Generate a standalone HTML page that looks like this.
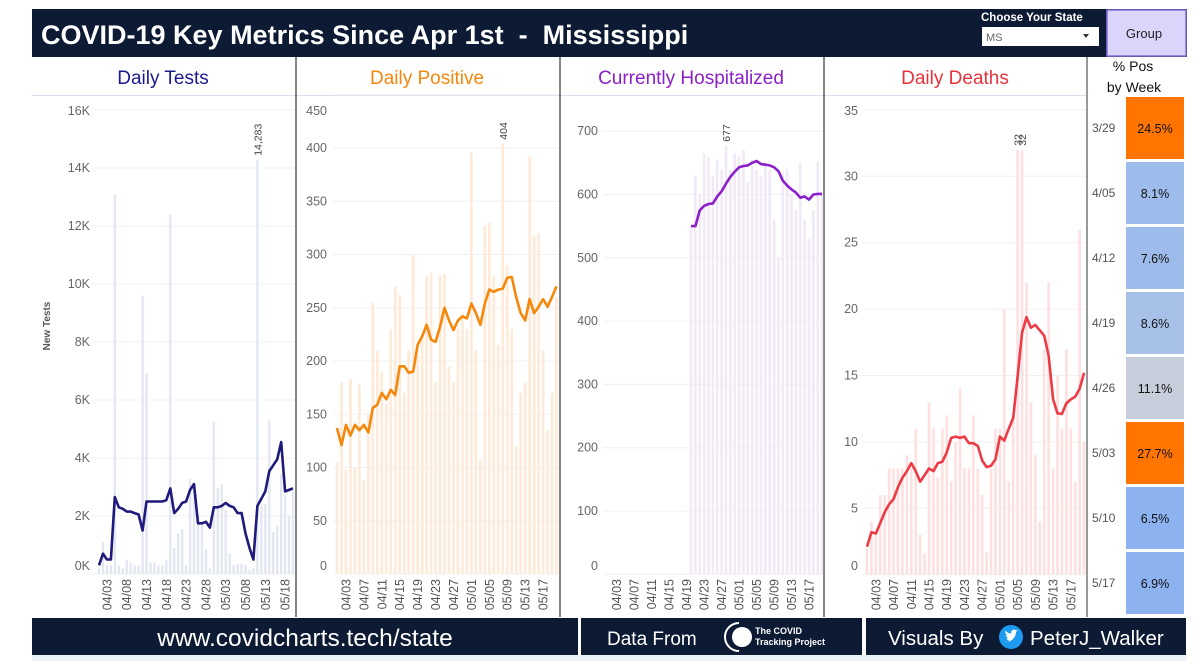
<!DOCTYPE html>
<html><head><meta charset="utf-8">
<style>
html,body{margin:0;padding:0;background:#fff;width:1200px;height:661px;overflow:hidden;font-family:"Liberation Sans",sans-serif}
svg text{font-family:"Liberation Sans",sans-serif}
</style></head>
<body>
<svg id="root" width="1200" height="661" viewBox="0 0 1200 661" xmlns="http://www.w3.org/2000/svg">
  <rect x="0" y="0" width="1200" height="661" fill="#fff"/>
  <rect x="32" y="655" width="1155" height="6" fill="#eef3fa"/>
  <!-- header -->
  <g>
    <rect x="32" y="9" width="1155" height="48" fill="#0c1a33"/>
    <text x="41" y="44" font-size="27" font-weight="bold" fill="#fff" style="white-space:pre">COVID-19 Key Metrics Since Apr 1st  -  Mississippi</text>
    <text x="981" y="21" font-size="11.5" font-weight="bold" fill="#fff">Choose Your State</text>
    <g>
      <rect x="982" y="27" width="117" height="19" fill="#fff"/>
      <text x="986" y="41" font-size="11" fill="#666">MS</text>
      <path d="M1083 34 l6 0 l-3 4 z" fill="#333"/>
    </g>
    <g>
      <rect x="1107" y="10" width="79" height="46" fill="#d9d5fb" stroke="#8a6fe0" stroke-width="1.5"/>
      <text x="1144" y="38" font-size="13" fill="#222" text-anchor="middle">Group</text>
    </g>
  </g>
  <!-- panel frame -->
  <line x1="32" y1="95.5" x2="1086" y2="95.5" stroke="#dde" stroke-width="1"/>
  <line x1="296" y1="57" x2="296" y2="617" stroke="#333" stroke-width="1.2"/>
  <line x1="560" y1="57" x2="560" y2="617" stroke="#333" stroke-width="1.2"/>
  <line x1="824" y1="57" x2="824" y2="617" stroke="#333" stroke-width="1.2"/>
  <line x1="1087" y1="57" x2="1087" y2="617" stroke="#555" stroke-width="1.2"/>
  <text x="163" y="84" font-size="19" fill="#1c1a8c" text-anchor="middle">Daily Tests</text>
  <text x="427" y="84" font-size="19" fill="#f5870b" text-anchor="middle">Daily Positive</text>
  <text x="691" y="84" font-size="19" fill="#8b1fc9" text-anchor="middle">Currently Hospitalized</text>
  <text x="955" y="84" font-size="19" fill="#e8323c" text-anchor="middle">Daily Deaths</text>
  <text transform="translate(50,326) rotate(-90)" font-size="10" font-weight="bold" fill="#555" text-anchor="middle">New Tests</text>
  <g id="charts"></g>
  <!-- week table -->
  <text x="1133" y="71" font-size="14" fill="#111" text-anchor="middle">% Pos</text>
  <text x="1134" y="92" font-size="14" fill="#111" text-anchor="middle">by Week</text>
  <g id="weektable"></g>
  <!-- footer -->
  <g>
    <rect x="32" y="618" width="546" height="37" fill="#0c1a33"/>
    <rect x="581" y="618" width="281" height="37" fill="#0c1a33"/>
    <rect x="866" y="618" width="320" height="37" fill="#0c1a33"/>
    <text x="305" y="646" font-size="24.5" fill="#fff" text-anchor="middle">www.covidcharts.tech/state</text>
    <text x="607" y="645" font-size="19" fill="#fff">Data From</text>
    <g>
      <path d="M739 623 A14 14 0 0 0 739 651" stroke="#fff" stroke-width="2" fill="none"/>
      <circle cx="742" cy="637" r="10" fill="#fff"/>
      <text x="755" y="634" font-size="9" font-weight="bold" fill="#fff">The COVID</text>
      <text x="755" y="645" font-size="9" font-weight="bold" fill="#fff">Tracking Project</text>
    </g>
    <text x="888" y="645" font-size="20.5" fill="#fff">Visuals By</text>
    <g>
      <circle cx="1011" cy="637" r="12" fill="#1d9bf0"/>
      <path d="M1004 641 q5 2 9 -2 q3 -3 3 -7 l2 -2 l-2 0.5 q-2 -2 -4 0 q-1.5 1.5 -0.5 3 q-4 0 -6 -3 q-1 3 2 5 l-2 0 q1 2 3 2.5 l-2 0.5 q1 2 3 2 q-2 1.5 -4.5 1z" fill="#fff"/>
      <text x="1030" y="645" font-size="20.5" fill="#fff">PeterJ_Walker</text>
    </g>
  </g>
</svg>
<script>
const NS='http://www.w3.org/2000/svg';
// ---- data (days 04/01 .. 05/20) ----
const testsBars=[0.2,1.1,0.3,0.3,13.1,0.3,0.2,0.5,0.4,0.3,0.3,9.6,6.9,0.4,0.4,0.3,0.3,0.5,12.4,0.9,1.4,1.55,0.3,3.3,3.1,2.0,1.75,0.85,0.2,5.25,2.95,3.1,2.2,0.7,0.3,0.35,0.35,0.3,0.15,0.2,14.283,2.35,2.4,5.3,1.45,1.65,3.45,2.75,2.0,2.85];
const testsLine=[0.3,0.7,0.5,0.5,2.65,2.3,2.25,2.15,2.15,2.1,2.05,1.5,2.5,2.5,2.5,2.5,2.5,2.55,2.95,2.1,2.25,2.45,2.5,2.9,3.1,1.75,1.75,1.8,1.6,2.3,2.3,2.35,2.45,2.35,2.3,2.1,2.1,1.4,0.9,0.5,2.35,2.6,2.85,3.55,3.75,3.95,4.55,2.85,2.9,2.95];
const posBars=[105,180,98,183,100,178,88,150,255,210,190,160,230,270,262,170,210,300,205,225,280,283,180,280,282,195,180,230,245,230,396,210,107,327,330,280,215,404,290,230,120,170,180,392,318,320,210,135,170,260];
const posLine=[137,121,140,130,140,135,140,133,156,159,170,164,173,168,195,195,189,190,215,223,234,220,218,232,250,238,229,238,242,240,254,245,234,254,267,265,267,268,278,279,260,245,238,258,245,251,258,251,260,270];
const hospBars=[null,null,null,null,null,null,null,null,null,null,null,null,null,null,null,null,null,null,null,550,630,600,665,660,630,655,640,677,640,665,660,670,620,655,640,630,650,640,560,500,635,640,600,576,650,560,530,575,652,600];
const hospLine=[null,null,null,null,null,null,null,null,null,null,null,null,null,null,null,null,null,null,null,550,550,575,582,585,586,597,605,617,628,636,643,645,646,650,653,648,647,646,643,637,622,614,608,603,595,597,592,600,601,601];
const deathBars=[2,4,3,6,6,8,8,8,8,9,8,11,3,1.6,13,11,7.3,11,12,7,10,14,8,8,12,8,6,1.7,8,11,11,20,7,12,32,32,22,13,9,4,17,22,8,15,11,17,11,7,26,10];
const deathLine=[2.1,3.2,3.1,3.9,4.7,5.3,5.7,6.6,7.3,7.8,8.4,7.8,7.0,7.5,8.0,7.8,8.4,8.5,9.2,10.3,10.4,10.3,10.4,9.9,9.9,9.7,8.6,8.1,8.2,8.7,10.4,10.1,11.0,11.8,14.9,18.2,19.4,18.6,18.8,18.4,18.0,16.5,13.2,12.15,12.1,12.9,13.2,13.4,14.0,15.2];
const dayLabels=['04/01','04/02','04/03','04/04','04/05','04/06','04/07','04/08','04/09','04/10','04/11','04/12','04/13','04/14','04/15','04/16','04/17','04/18','04/19','04/20','04/21','04/22','04/23','04/24','04/25','04/26','04/27','04/28','04/29','04/30','05/01','05/02','05/03','05/04','05/05','05/06','05/07','05/08','05/09','05/10','05/11','05/12','05/13','05/14','05/15','05/16','05/17','05/18','05/19','05/20'];
const testsTicks=[0,2,4,6,8,10,12,14,16];
const posTicks=[0,50,100,150,200,250,300,350,400,450];
const hospTicks=[0,100,200,300,400,500,600,700];
const deathTicks=[0,5,10,15,20,25,30,35];
const weekLabels=['3/29','4/05','4/12','4/19','4/26','5/03','5/10','5/17'];
const weekValues=[24.5,8.1,7.6,8.6,11.1,27.7,6.5,6.9];

function mk(tag,attrs,parent){const e=document.createElementNS(NS,tag);for(const k in attrs)e.setAttribute(k,attrs[k]);parent.appendChild(e);return e;}

const charts=[
 {key:'tests',x0:99,dx:3.96,zero:574,k:29,gx0:92,gx1:295,lab:90,bars:testsBars,line:testsLine,ticks:testsTicks,fmt:v=>v+'K',barC:'#e3e7f2',lineC:'#1f1a7c',step:5,first:2,peak:'14,283',peakVal:14.283},
 {key:'positive',x0:337,dx:4.48,zero:574,k:1.065,gx0:333,gx1:559,lab:327,bars:posBars,line:posLine,ticks:posTicks,fmt:v=>''+v,barC:'#feead8',lineC:'#f5870b',step:4,first:2,peak:'404',peakVal:404},
 {key:'hospitalized',x0:608,dx:4.37,zero:574.3,k:0.633,gx0:603,gx1:823,lab:598,bars:hospBars,line:hospLine,ticks:hospTicks,fmt:v=>''+v,barC:'#f2e9f7',lineC:'#8b1fc9',step:4,first:2,peak:'677',peakVal:677},
 {key:'deaths',x0:867,dx:4.43,zero:574.7,k:13.28,gx0:862,gx1:1086,lab:858,bars:deathBars,line:deathLine,ticks:deathTicks,fmt:v=>''+v,barC:'#fde1e1',lineC:'#ee3a45',step:4,first:2,peak:'32',peakVal:32}
];
const root=document.getElementById('charts');
charts.forEach(c=>{
  const xs=i=>c.x0+i*c.dx;
  const ys=v=>c.zero-v*c.k;
  const g=mk('g',{},root);
  
  
  c.ticks.forEach(t=>{
    const y=ys(t);
    const gl=mk('line',{x1:c.gx0,x2:c.gx1,y1:y,y2:y,stroke:'#f0f0f0','stroke-width':1},g);
    
    
    const ly=Math.min(Math.max(y,111),566);
    const tl=mk('text',{x:c.lab,y:ly+4,'font-size':12.5,fill:'#666','text-anchor':'end'},g);
    
    
    tl.textContent=c.fmt(t);
  });
  const bw=Math.max(1.6,c.dx*0.6);
  c.bars.forEach((v,i)=>{
    if(v==null)return;
    const r=mk('rect',{x:xs(i)-bw/2,y:ys(v),width:bw,height:v*c.k,fill:c.barC},g);
    
    
  });
  let d='';
  c.line.forEach((v,i)=>{if(v==null)return;d+=(d?'L':'M')+xs(i).toFixed(1)+' '+ys(v).toFixed(1);});
  const p=mk('path',{d:d,fill:'none',stroke:c.lineC,'stroke-width':2.6,'stroke-linejoin':'round'},g);
  
  
  c.bars.forEach((v,i)=>{
    if(v!==c.peakVal)return;
    const y=ys(v)-4;
    const t=mk('text',{transform:'translate('+(xs(i)+4)+','+y+') rotate(-90)','font-size':10.5,fill:'#444'},g);
    
    
    t.textContent=c.peak;
  });
  for(let i=c.first;i<dayLabels.length;i+=c.step){
    const t=mk('text',{transform:'translate('+(xs(i)+4.5)+',579) rotate(-90)','font-size':12.5,fill:'#555','text-anchor':'end'},g);
    
    
    t.textContent=dayLabels[i];
  }
});
const wt=document.getElementById('weektable');
function wcol(v){if(v>=20)return '#ff7500';if(v>=10)return '#c7cdda';if(v>=8.5)return '#a7c0e8';if(v>=7.5)return '#9dbbeb';return '#8cb2f0';}
weekLabels.forEach((w,i)=>{
  const y=97+i*65;
  const r=mk('rect',{x:1126,y:y,width:58,height:62,fill:wcol(weekValues[i])},wt);
  
  
  const l=mk('text',{x:1092,y:y+35,'font-size':12,fill:'#555'},wt);
  
  
  l.textContent=w;
  const t=mk('text',{x:1155,y:y+36,'font-size':12.5,fill:'#111','text-anchor':'middle'},wt);
  
  
  t.textContent=weekValues[i].toFixed(1)+'%';
});
</script>
</body></html>
